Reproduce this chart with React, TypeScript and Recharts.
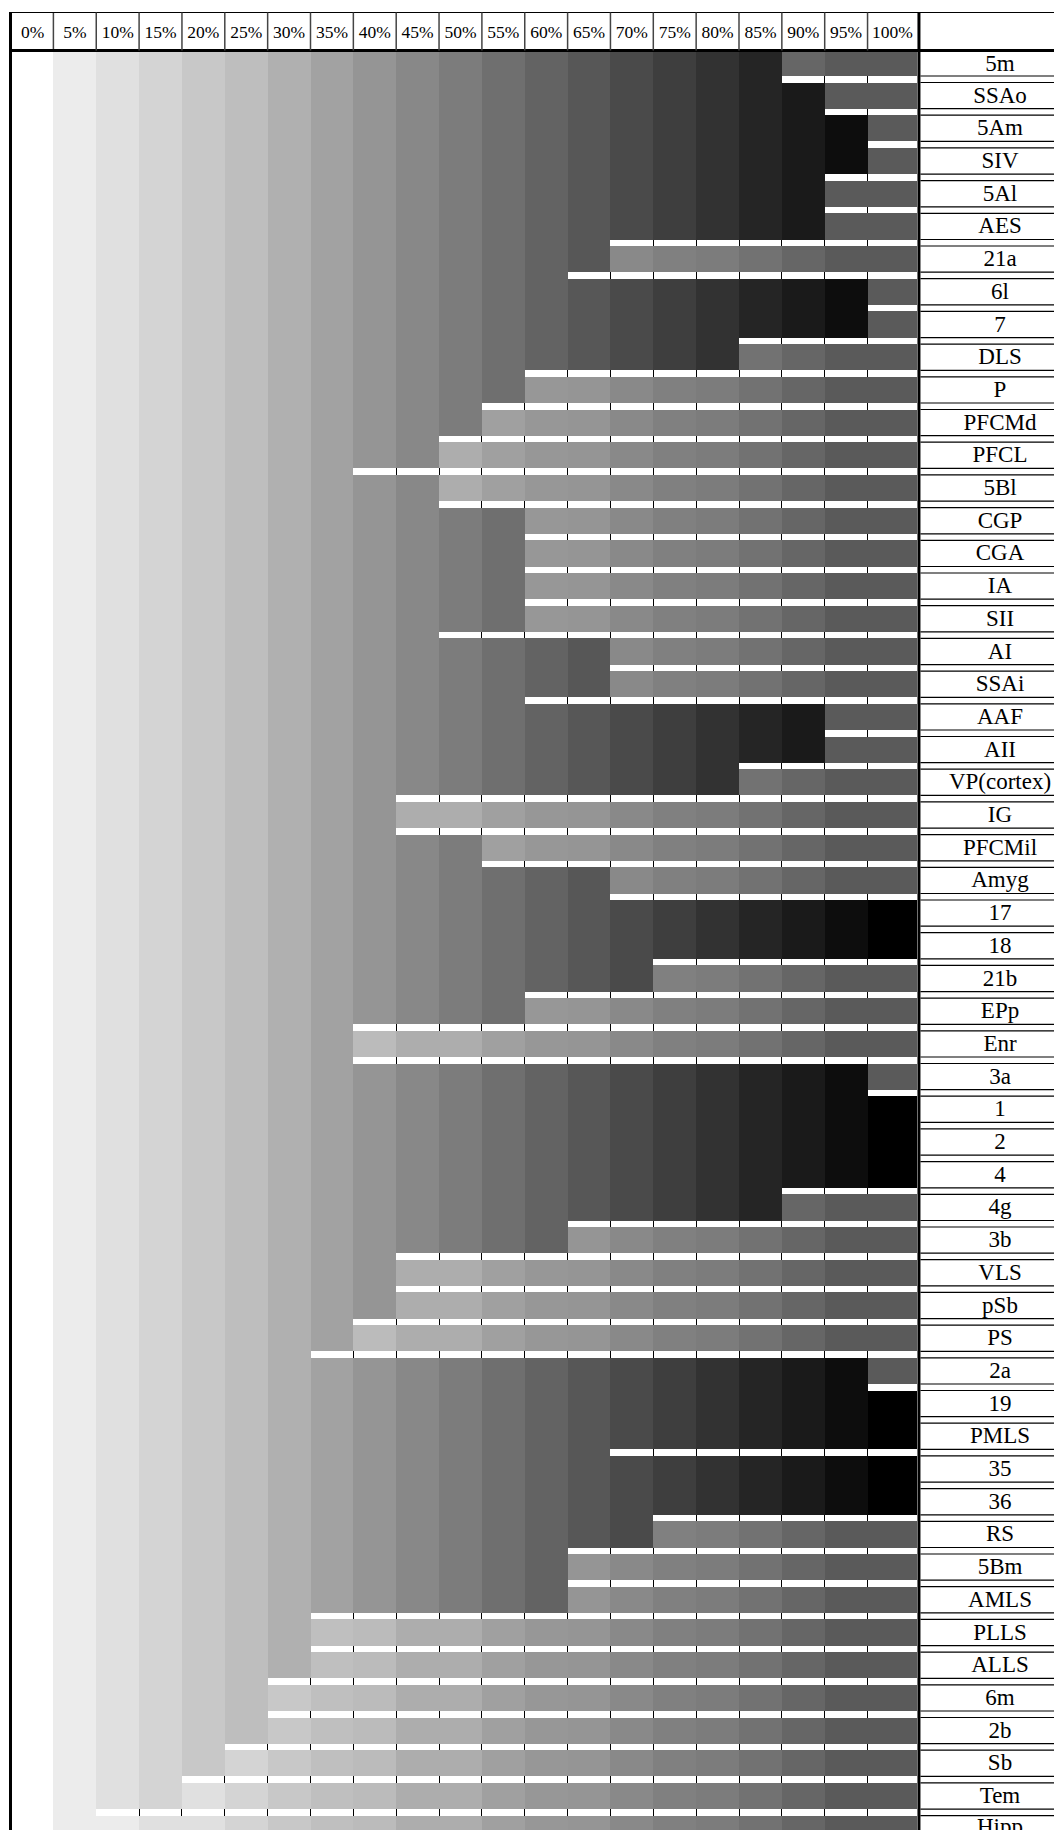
import React from 'react';
import { BarChart, Bar, XAxis, YAxis } from 'recharts';

// ---------- data ----------
const thresholds = ['0%', '5%', '10%', '15%', '20%', '25%', '30%', '35%', '40%', '45%', '50%',
  '55%', '60%', '65%', '70%', '75%', '80%', '85%', '90%', '95%', '100%'];

const regions = ['5m', 'SSAo', '5Am', 'SIV', '5Al', 'AES', '21a', '6l', '7', 'DLS', 'P', 'PFCMd',
  'PFCL', '5Bl', 'CGP', 'CGA', 'IA', 'SII', 'AI', 'SSAi', 'AAF', 'AII', 'VP(cortex)', 'IG',
  'PFCMil', 'Amyg', '17', '18', '21b', 'EPp', 'Enr', '3a', '1', '2', '4', '4g', '3b', 'VLS',
  'pSb', 'PS', '2a', '19', 'PMLS', '35', '36', 'RS', '5Bm', 'AMLS', 'PLLS', 'ALLS', '6m', '2b',
  'Sb', 'Tem', 'Hipp'];

// threshold index at which each region separates from the region above it (21 = never)
const splitLevel = [0, 18, 19, 20, 19, 19, 14, 13, 20, 17, 12, 11, 10, 8, 10, 12, 12, 12, 10, 14,
  12, 19, 17, 9, 9, 11, 14, 21, 15, 12, 8, 8, 20, 21, 21, 18, 13, 9, 9, 8, 7, 20, 21, 14, 21, 15,
  13, 13, 7, 7, 6, 6, 5, 4, 2];

// grey of a multi-region cluster at each threshold
const clusterShades = ['#ffffff', '#ececec', '#e0e0e0', '#d4d4d4', '#c8c8c8', '#bebebe', '#b0b0b0',
  '#a2a2a2', '#959595', '#888888', '#7c7c7c', '#6f6f6f', '#636363', '#575757', '#4a4a4a',
  '#3e3e3e', '#323232', '#252525', '#1a1a1a', '#0d0d0d', '#000000'];
// grey of a single-region cluster at each threshold
const singleShades = ['#ffffff', '#ececec', '#ececec', '#e0e0e0', '#e0e0e0', '#d4d4d4', '#c8c8c8',
  '#bfbfbf', '#bbbbbb', '#adadad', '#adadad', '#a0a0a0', '#979797', '#959595', '#898989',
  '#808080', '#7c7c7c', '#727272', '#666666', '#5a5a5a', '#5a5a5a'];

// ---------- layout ----------
const CHART_W = 1054;
const CHART_H = 1838;
const VISIBLE_H = 1830;
const columnWidths = [41.4, ...Array(19).fill(42.85), 49.9];
const GRID_W = columnWidths.reduce((a, b) => a + b, 0);
const PLOT_LEFT = 4;
const PLOT_TOP = 35.3;
const PLOT_BOTTOM_MARGIN = 4.2;
const LABEL_AXIS_W = CHART_W - PLOT_LEFT - GRID_W;
const ROW_PITCH = (CHART_H - PLOT_TOP - PLOT_BOTTOM_MARGIN) / regions.length;
const GAP = 6.5;
const HEADER_TOP = 4.5;
const HEADER_LINE_Y = 42.5;
const HEADER_LINE_BOTTOM = 44;
const HEADER_TEXT_Y = 23.5;
const LABEL_CX = 992;
const SERIF = "'Liberation Serif', 'Times New Roman', Times, serif";
const NCOL = thresholds.length;

const columnCenters: number[] = [];
{
  let acc = 0;
  columnWidths.forEach((w) => {
    columnCenters.push(acc + w / 2);
    acc += w;
  });
}

const isGapped = (i: number, k: number) => i === 0 || splitLevel[i] <= k;

const clusterSize = (i: number, k: number) => {
  let s = i;
  while (s > 0 && splitLevel[s] > k) s--;
  let e = i + 1;
  while (e < regions.length && splitLevel[e] > k) e++;
  return e - s;
};

const cellColor = (i: number, k: number) => {
  if (k === 0) return clusterShades[0];
  return clusterSize(i, k) > 1 ? clusterShades[k] : singleShades[k];
};

const data = regions.map((name, idx) => {
  const row: Record<string, any> = { name, idx };
  columnWidths.forEach((w, k) => {
    row[`c${k}`] = w;
  });
  return row;
});

const makeCell = (k: number) => (props: any) => {
  const { x, y, width, payload } = props;
  const i = payload && payload.idx != null ? payload.idx : props.index;
  if (x == null || y == null) return <g />;
  const gapped = isGapped(i, k);
  let top = gapped ? y + GAP : y;
  if (i === 0) top = Math.max(top, HEADER_LINE_BOTTOM);
  const bottom = y + ROW_PITCH;
  const showTick = i > 0 && k > 0 && gapped && isGapped(i, k - 1);
  return (
    <g>
      <rect x={x} y={top} width={width} height={bottom - top} fill={cellColor(i, k)} shapeRendering="crispEdges" />
      {showTick && (
        <line x1={x} x2={x} y1={y} y2={y + GAP} stroke="#000" strokeWidth={1} shapeRendering="crispEdges" />
      )}
    </g>
  );
};

const HeaderTick = (props: any) => {
  const { x, payload } = props;
  const k = payload && payload.index != null ? payload.index : props.index;
  const w = columnWidths[k];
  const left = x - w / 2;
  const right = x + w / 2;
  return (
    <g>
      <text x={x} y={HEADER_TEXT_Y} textAnchor="middle" dominantBaseline="central" fontFamily={SERIF} fontSize={17.5} fill="#000">
        {thresholds[k]}
      </text>
      {k < NCOL - 1 && (
        <line x1={right} x2={right} y1={HEADER_TOP} y2={HEADER_LINE_Y} stroke="#444" strokeWidth={1.5} />
      )}
      {k === 0 && (
        <g>
          <line x1={left - 1.5} x2={left - 1.5} y1={HEADER_TOP - 0.5} y2={CHART_H} stroke="#000" strokeWidth={3} />
          <line x1={left - 3} x2={CHART_W} y1={HEADER_TOP} y2={HEADER_TOP} stroke="#000" strokeWidth={1} />
          <line x1={left - 3} x2={CHART_W} y1={HEADER_LINE_Y} y2={HEADER_LINE_Y} stroke="#000" strokeWidth={3} />
        </g>
      )}
      {k === NCOL - 1 && (
        <line x1={right + 1.5} x2={right + 1.5} y1={HEADER_TOP - 0.5} y2={CHART_H} stroke="#000" strokeWidth={3} />
      )}
    </g>
  );
};

const LabelTick = (props: any) => {
  const { y, payload } = props;
  const i = payload && payload.index != null ? payload.index : props.index;
  const bandTop = y - ROW_PITCH / 2;
  const boxTop = i === 0 ? HEADER_LINE_BOTTOM : bandTop + GAP;
  const boxBottom = bandTop + ROW_PITCH;
  const visibleBottom = Math.min(boxBottom, VISIBLE_H);
  const x0 = PLOT_LEFT + GRID_W + 3;
  return (
    <g>
      {i > 0 && <line x1={x0} x2={CHART_W} y1={boxTop} y2={boxTop} stroke="#000" strokeWidth={1.2} />}
      {boxBottom < VISIBLE_H && (
        <line x1={x0} x2={CHART_W} y1={boxBottom} y2={boxBottom} stroke="#000" strokeWidth={1.2} />
      )}
      <text x={LABEL_CX} y={(boxTop + visibleBottom) / 2 - 0.5} textAnchor="middle" dominantBaseline="central" fontFamily={SERIF} fontSize={23} fill="#000">
        {payload.value}
      </text>
    </g>
  );
};

export default function App() {
  return (
    <div style={{ width: CHART_W, height: VISIBLE_H, overflow: 'hidden', marginBottom: -8, background: '#fff' }}>
      <BarChart
        width={CHART_W}
        height={CHART_H}
        data={data}
        layout="vertical"
        margin={{ top: 0, right: 0, bottom: PLOT_BOTTOM_MARGIN, left: PLOT_LEFT }}
        barCategoryGap={0}
        barGap={0}
      >
        {columnWidths.map((_, k) => (
          <Bar key={k} dataKey={`c${k}`} stackId="grid" isAnimationActive={false} shape={makeCell(k)} />
        ))}
        <XAxis
          type="number"
          orientation="top"
          domain={[0, GRID_W]}
          ticks={columnCenters}
          interval={0}
          height={PLOT_TOP}
          axisLine={false}
          tickLine={false}
          tick={<HeaderTick />}
          allowDataOverflow
        />
        <YAxis
          type="category"
          dataKey="name"
          orientation="right"
          width={LABEL_AXIS_W}
          interval={0}
          axisLine={false}
          tickLine={false}
          tick={<LabelTick />}
        />
      </BarChart>
    </div>
  );
}
